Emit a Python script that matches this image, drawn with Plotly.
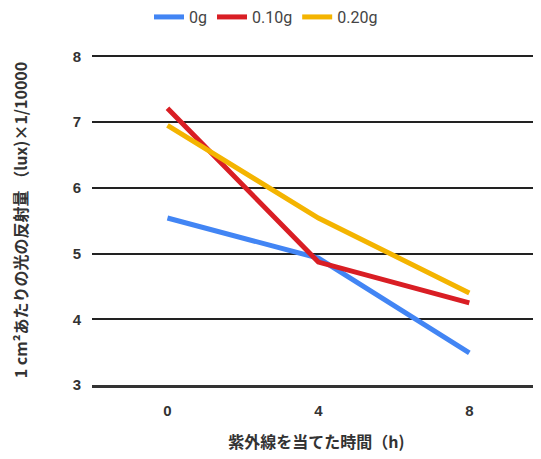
import plotly.graph_objects as go

hours = [0, 4, 8]
series_names = ["0g", "0.10g", "0.20g"]
vals_0g = [5.54, 4.93, 3.49]
vals_010g = [7.21, 4.87, 4.25]
vals_020g = [6.95, 5.54, 4.40]
colors = ["#4285F4", "#D91E24", "#F4B400"]
y_ticks = [3, 4, 5, 6, 7, 8]

fig = go.Figure()
for name, vals, c in zip(series_names, [vals_0g, vals_010g, vals_020g], colors):
    fig.add_trace(go.Scatter(x=hours, y=vals, mode="lines", name=name,
                             line=dict(color=c, width=5)))

tick_font = dict(size=15, color="#333333", family="'Liberation Sans', Arial, sans-serif", weight="bold")
title_font = dict(size=16, color="#333333", family="'Noto Sans CJK JP', sans-serif", weight="bold")

# page has an 8px body margin, so the figure is a little smaller than the window
fig.update_layout(
    width=533, height=451,
    margin=dict(l=84, r=0, t=47, b=74),
    paper_bgcolor="white", plot_bgcolor="white",
    font=dict(family="Roboto, 'Noto Sans CJK JP', sans-serif", color="#333333"),
    legend=dict(orientation="h", x=0.127, xanchor="left",
                yref="container", y=0.98, yanchor="middle",
                font=dict(size=16, color="#444444", family="Roboto, sans-serif"),
                itemwidth=30),
    showlegend=True,
)
fig.update_xaxes(
    range=[-2.0, 9.9], tickvals=hours, ticktext=[str(h) for h in hours],
    showgrid=False, zeroline=False,
    showline=True, linecolor="#333333", linewidth=2.5,
    tickfont=tick_font, ticks="", ticklabelstandoff=10,
    title=dict(text="紫外線を当てた時間（h)", font=title_font, standoff=20),
)
fig.update_yaxes(
    range=[3, 8.02], tickvals=y_ticks, showgrid=True, gridcolor="#222222", gridwidth=1.6,
    zeroline=False, ticks="", tickfont=tick_font, ticklabelstandoff=10,
    title=dict(text="1 cm²あたりの光の反射量 （lux)×1/10000", font=title_font, standoff=46),
)
fig.write_html("out.html")
